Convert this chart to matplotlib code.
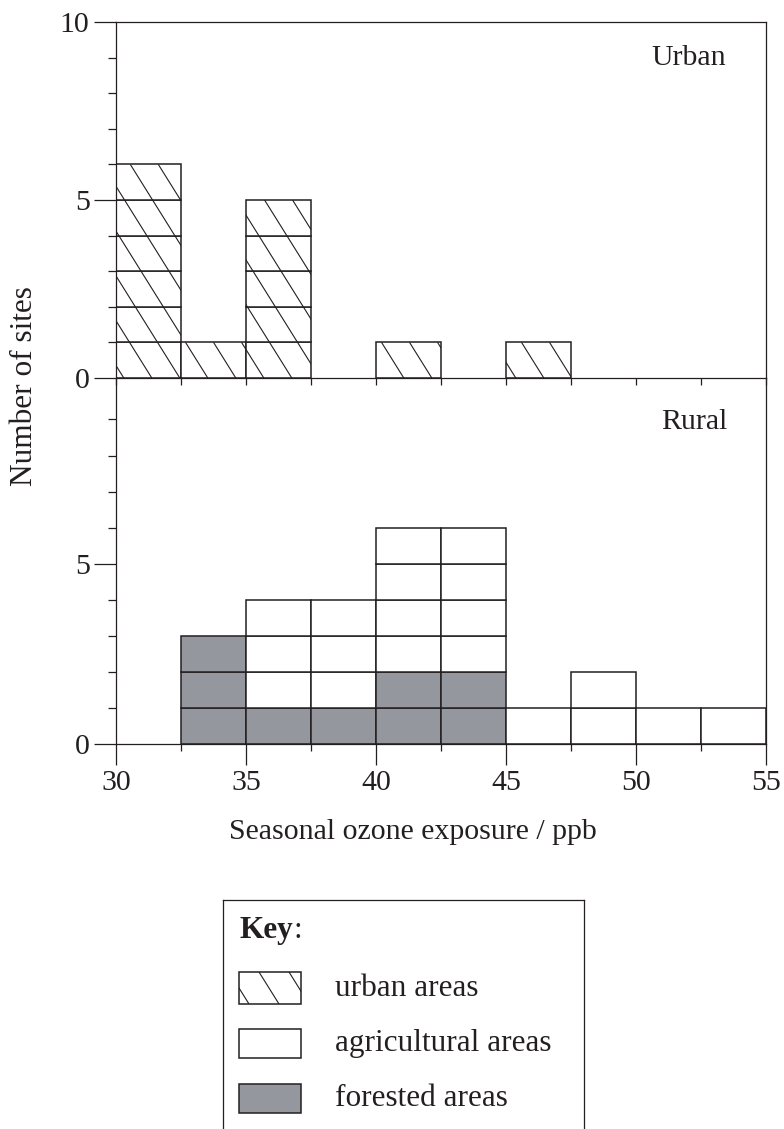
import matplotlib
matplotlib.use('Agg')
import matplotlib.pyplot as plt
import numpy as np
from matplotlib.collections import LineCollection
from matplotlib.patches import Rectangle

plt.rcParams['font.family'] = ['Liberation Serif', 'DejaVu Serif']
plt.rcParams['font.size'] = 21.5
plt.rcParams['text.color'] = '#231f20'

# 数据：每个箱的左边界和站点数
bin_left = [30, 32.5, 35, 37.5, 40, 42.5, 45, 47.5, 50, 52.5]
bin_width = 2.5
urban = [6, 1, 5, 0, 1, 0, 1, 0, 0, 0]
rural_forest = [0, 3, 1, 1, 2, 2, 0, 0, 0, 0]
rural_agri = [0, 0, 3, 3, 4, 4, 1, 2, 1, 1]
x_major = [30, 35, 40, 45, 50, 55]
x_minor = [32.5, 37.5, 42.5, 47.5, 52.5]

forest_color = '#94979e'
ink = '#231f20'
W, H = 784, 1129
dpi = 100


def px_axes(left, top, right, bottom):
    return [left / W, 1 - bottom / H, (right - left) / W, (bottom - top) / H]


def hatch_bar(ax, patch, px_x, px_y, spacing=28, slope=1.6):
    # 斜线填充（比45度更陡），用柱子裁剪
    x0, y0 = patch.get_x(), patch.get_y()
    x1, y1 = x0 + patch.get_width(), y0 + patch.get_height()
    m = slope * px_x / px_y
    d = spacing / px_x
    top = y1
    cs = np.arange(30 + 0.3, x1 + top / m + d, d)
    segs = [[(c - top / m, top), (c, 0)] for c in cs]
    lc = LineCollection(segs, colors=ink, linewidths=0.8)
    ax.add_collection(lc)
    lc.set_clip_path(patch)


fig = plt.figure(figsize=(W / dpi, H / dpi), dpi=dpi)
ax_r = fig.add_axes(px_axes(116, 378, 766, 744))
ax_u = fig.add_axes(px_axes(116, 22, 766, 378))
ax_u.patch.set_facecolor('none')
ax_r.patch.set_facecolor('none')

# 城市
px_x = 650 / 25
px_y_u = 356 / 10
for left, n in zip(bin_left, urban):
    for k in range(n):
        b = ax_u.bar(left, 1, bottom=k, width=bin_width, align='edge',
                     color='white', edgecolor=ink, linewidth=1.1, zorder=2)
        hatch_bar(ax_u, b[0], px_x, px_y_u)
ax_u.set_xlim(30, 55)
ax_u.set_ylim(0, 10)
ax_u.set_yticks([0, 5, 10])
ax_u.set_yticks(range(1, 10), minor=True)
ax_u.set_xticks(np.arange(30, 55.1, 2.5))
ax_u.tick_params(axis='x', which='both', direction='out', length=5,
                 width=0.9, colors=ink, labelbottom=False)
ax_u.tick_params(axis='y', which='major', direction='out', length=16,
                 width=0.9, colors=ink, pad=3)
ax_u.tick_params(axis='y', which='minor', direction='out', length=5.8,
                 width=0.9, colors=ink)
ax_u.text(0.938, 0.899, 'Urban', transform=ax_u.transAxes,
          ha='right', va='center')

# 农村
ylim_r = 10.15
for left, nf, na in zip(bin_left, rural_forest, rural_agri):
    for k in range(nf):
        ax_r.bar(left, 1, bottom=k, width=bin_width, align='edge',
                 color=forest_color, edgecolor=ink, linewidth=1.1, zorder=2)
    for k in range(na):
        ax_r.bar(left, 1, bottom=nf + k, width=bin_width, align='edge',
                 color='white', edgecolor=ink, linewidth=1.1, zorder=2)
ax_r.set_xlim(30, 55)
ax_r.set_ylim(0, ylim_r)
ax_r.set_yticks([0, 5])
ax_r.set_yticks(range(1, 10), minor=True)
ax_r.set_xticks(x_major)
ax_r.set_xticks(x_minor, minor=True)
ax_r.tick_params(axis='x', which='major', direction='out', length=15,
                 width=0.9, colors=ink, pad=4)
ax_r.tick_params(axis='x', which='minor', direction='out', length=5,
                 width=0.9, colors=ink)
ax_r.tick_params(axis='y', which='major', direction='out', length=16,
                 width=0.9, colors=ink, pad=3)
ax_r.tick_params(axis='y', which='minor', direction='out', length=5.8,
                 width=0.9, colors=ink)
ax_r.spines['top'].set_visible(False)
ax_r.text(0.9415, 0.88, 'Rural', transform=ax_r.transAxes,
          ha='right', va='center')

for ax in (ax_u, ax_r):
    for s in ax.spines.values():
        s.set_color(ink)
        s.set_linewidth(0.9)

fig.text(25 / W, 1 - 386 / H, 'Number of sites', rotation=90,
         ha='center', va='center', fontsize=22.5)
fig.text(413 / W, 1 - 832 / H, 'Seasonal ozone exposure / ppb',
         ha='center', va='center')

# 图例框（像素坐标）
ax_k = fig.add_axes(px_axes(223, 900, 584, H + 22))
ax_k.set_xlim(223, 584)
ax_k.set_ylim(H + 22, 900)
ax_k.set_xticks([])
ax_k.set_yticks([])
ax_k.spines['bottom'].set_visible(False)
for s in ax_k.spines.values():
    s.set_color(ink)
    s.set_linewidth(0.9)

key = ax_k.text(240, 930, 'Key', fontweight='bold', ha='left', va='center',
                fontsize=22.5)
ax_k.annotate(':', xy=(1, 0), xycoords=key, ha='left', va='bottom',
              fontsize=22.5)

labels = ['urban areas', 'agricultural areas', 'forested areas']
swatch_top = [972, 1029, 1084]
swatch_h = [32, 29, 29]
faces = ['white', 'white', forest_color]
for lab, top, h, fc in zip(labels, swatch_top, swatch_h, faces):
    r = Rectangle((239, top), 62, h, facecolor=fc, edgecolor=ink, linewidth=1.1)
    ax_k.add_patch(r)
    ax_k.text(335, top + h / 2, lab, ha='left', va='center', fontsize=22.5)

# 图例中的斜线
r0 = ax_k.patches[0]
cs = np.arange(239 - 10, 301 + 40, 30)
segs = [[(c, 972), (c + 32 / 1.6, 1004)] for c in cs]
lc = LineCollection(segs, colors=ink, linewidths=0.8)
ax_k.add_collection(lc)
lc.set_clip_path(r0)

fig.savefig('out.png', dpi=dpi)
